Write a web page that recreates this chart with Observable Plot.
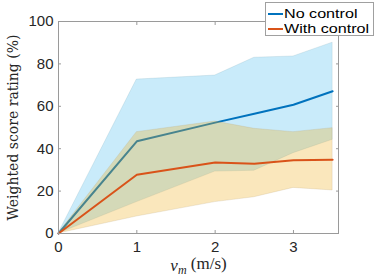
<!DOCTYPE html>
<html>
<head>
<meta charset="utf-8">
<script src="https://cdn.jsdelivr.net/npm/d3@7"></script>
<script src="https://cdn.jsdelivr.net/npm/@observablehq/plot@0.6"></script>
<style>
  body { margin: 0; background: #fff; }
  #wrap { position: relative; width: 374px; height: 277px; }
  #legend {
    position: absolute; left: 265px; top: 2px; width: 107px; height: 32px;
    background: #fff; border: 1px solid #a0a0a0;
    font-family: "Liberation Sans", Arial, sans-serif; font-size: 13px; color: #000;
  }
  .row { position: absolute; left: 2px; height: 15px; line-height: 15px; display: flex; align-items: center; white-space: nowrap; }
  .row span.sw { display: inline-block; width: 15px; height: 0; border-top: 2px solid; margin-right: 1px; }
  .row span.tx { display: inline-block; transform: scaleX(1.24); transform-origin: 0 50%; }
</style>
</head>
<body>
<div id="wrap"><div id="chart"></div><div id="legend"></div></div>
<script>
const vm = [0, 1, 2, 2.5, 3, 3.5];
const noCtrlMean  = [0, 43.5, 52.3, 56.5, 60.7, 67.1];
const noCtrlUpper = [0, 72.6, 74.5, 82.9, 83.5, 90.0];
const noCtrlLower = [0, 14.8, 29.2, 29.6, 37.9, 44.2];
const withCtrlMean  = [0, 27.7, 33.5, 32.9, 34.6, 34.8];
const withCtrlUpper = [0, 47.8, 52.8, 49.4, 47.8, 49.7];
const withCtrlLower = [0, 8.0, 14.8, 17.1, 21.5, 20.3];
const seriesNames = ["No control", "With control"];
const lineColors = ["#0072BD", "#D95319"];
const bandColors = ["#4DBEEE", "#EDB120"];
const xTicks = [0, 1, 2, 3];
const yTicks = [0, 20, 40, 60, 80, 100];

const noCtrl = vm.map((x, i) => ({x, m: noCtrlMean[i], lo: noCtrlLower[i], hi: noCtrlUpper[i]}));
const withCtrl = vm.map((x, i) => ({x, m: withCtrlMean[i], lo: withCtrlLower[i], hi: withCtrlUpper[i]}));

const frameColor = "#9a9a9a";
const tickFont = 15;
const chart = Plot.plot({
  width: 374, height: 277,
  marginLeft: 58, marginRight: 36, marginTop: 21, marginBottom: 44,
  style: {fontFamily: "Liberation Sans, Arial, sans-serif", color: "#262626", background: "#fff"},
  x: {domain: [0, 3.575]},
  y: {domain: [0, 100]},
  marks: [
    Plot.areaY(noCtrl, {x: "x", y1: "lo", y2: "hi", fill: bandColors[0], fillOpacity: 0.3, stroke: "#7fa8b8", strokeOpacity: 0.35, strokeWidth: 0.6}),
    Plot.lineY(noCtrl, {x: "x", y: "m", stroke: lineColors[0], strokeWidth: 2}),
    Plot.areaY(withCtrl, {x: "x", y1: "lo", y2: "hi", fill: bandColors[1], fillOpacity: 0.3, stroke: "#b8a070", strokeOpacity: 0.35, strokeWidth: 0.6}),
    Plot.lineY(withCtrl, {x: "x", y: "m", stroke: lineColors[1], strokeWidth: 2}),
    Plot.frame({stroke: frameColor, strokeWidth: 1}),
    Plot.axisX(xTicks, {anchor: "bottom", tickSize: 0, tickPadding: 8, fontSize: tickFont, label: "vm (m/s)", labelAnchor: "center", labelArrow: "none", labelOffset: 37}),
    Plot.axisX(xTicks, {anchor: "bottom", tickSize: -3, stroke: frameColor, tickFormat: () => "", label: null}),
    Plot.axisX(xTicks, {anchor: "top", tickSize: -3, stroke: frameColor, tickFormat: () => "", label: null}),
    Plot.axisY(yTicks, {anchor: "left", tickSize: 0, tickPadding: 5, fontSize: tickFont, label: "Weighted score rating (%)", labelAnchor: "center", labelArrow: "none", labelOffset: 50}),
    Plot.axisY(yTicks, {anchor: "left", tickSize: -3, stroke: frameColor, tickFormat: () => "", label: null}),
    Plot.axisY(yTicks, {anchor: "right", tickSize: -3, stroke: frameColor, tickFormat: () => "", label: null})
  ]
});
document.getElementById("chart").appendChild(chart);

const serif = "DejaVu Serif, serif";
const serif2 = "Liberation Serif, serif";
// axis labels in serif (LaTeX look)
const yl = d3.select(chart).select('g[aria-label="y-axis label"]');
yl.attr("font-family", serif).attr("font-size", "14px");
yl.selectAll("text").style("font-family", serif).style("font-size", "14px");

const xlg = d3.select(chart).select('g[aria-label="x-axis label"]');
xlg.attr("font-family", serif2).attr("font-size", "17px");
const xl = xlg.select("text").style("font-family", serif2).style("font-size", "17px");
xl.text(null);
xl.append("tspan").style("font-style", "italic").text("v");
xl.append("tspan").style("font-style", "italic").style("font-size", "12px").attr("dy", "0.25em").text("m");
xl.append("tspan").style("font-style", "normal").attr("dy", "-0.25em").text(" (m/s)");

// legend
const legend = d3.select("#legend");
seriesNames.forEach((name, i) => {
  const row = legend.append("div").attr("class", "row").style("top", (i === 0 ? 3 : 18) + "px");
  row.append("span").attr("class", "sw").style("border-color", lineColors[i]);
  row.append("span").attr("class", "tx").text(name);
});
</script>
</body>
</html>
